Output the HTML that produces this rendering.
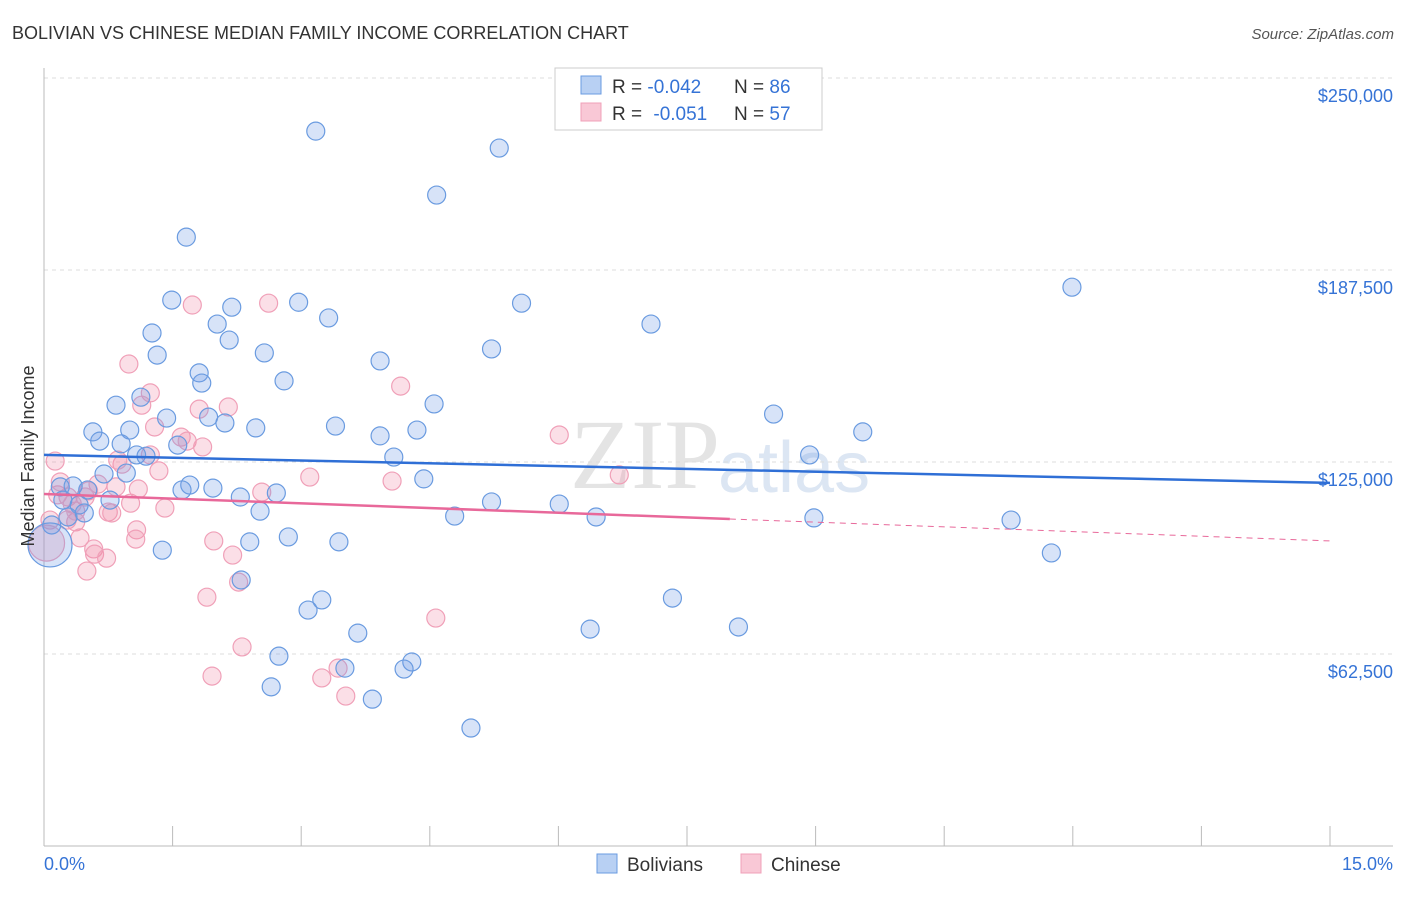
<!DOCTYPE html>
<html><head><meta charset="utf-8"><style>
body{margin:0;background:#fff;font-family:"Liberation Sans",sans-serif}
</style></head><body>
<svg id="chart" width="1406" height="892" xmlns="http://www.w3.org/2000/svg" font-family="Liberation Sans, sans-serif">
<text x="12" y="39" font-size="18" fill="#333">BOLIVIAN VS CHINESE MEDIAN FAMILY INCOME CORRELATION CHART</text>
<text x="1394" y="39" font-size="15" fill="#555" text-anchor="end" font-style="italic">Source: ZipAtlas.com</text>
<text x="720" y="488" font-size="100" fill="#e4e4e4" text-anchor="end" font-family="Liberation Serif, serif">ZIP</text>
<text x="718" y="492" font-size="72" fill="#dce6f3">atlas</text>
<g id="grid"></g>
<g id="axes"></g>
<g id="points"></g>
<g id="lines"></g>
<text x="34" y="456" font-size="18" fill="#333" text-anchor="middle" transform="rotate(-90 34 456)">Median Family Income</text>
<g>
<rect x="555" y="68" width="267" height="62" fill="#fff" stroke="#ccc"/>
<rect x="581" y="76" width="20" height="18" fill="#b8d0f3" stroke="#6a9be0"/>
<rect x="581" y="103" width="20" height="18" fill="#f9c8d6" stroke="#f0a0b8"/>
<text x="612" y="93" font-size="19" fill="#333">R = <tspan fill="#3573d6">-0.042</tspan><tspan x="734">N = </tspan><tspan fill="#3573d6">86</tspan></text>
<text x="612" y="120" font-size="19" fill="#333">R = <tspan fill="#3573d6" dx="6">-0.051</tspan><tspan x="734">N = </tspan><tspan fill="#3573d6">57</tspan></text>
</g>
<g>
<rect x="597" y="854" width="20" height="19" fill="#b8d0f3" stroke="#6a9be0"/>
<text x="627" y="871" font-size="19" fill="#333">Bolivians</text>
<rect x="741" y="854" width="20" height="19" fill="#f9c8d6" stroke="#f0a0b8"/>
<text x="771" y="871" font-size="19" fill="#333">Chinese</text>
</g>
</svg>
<script>
const xTickLabels=["0.0%","15.0%"];
const yTicks=[62500,125000,187500,250000];
const yTickLabels=["$62,500","$125,000","$187,500","$250,000"];
const blueX=[3.17,5.31,4.58,1.66,11.99,1.49,2.97,5.57,2.19,3.32,2.02,7.08,2.16,1.26,1.32,2.57,3.92,5.22,1.81,1.84,2.80,1.13,0.84,4.55,1.43,1.92,2.11,3.40,2.47,8.51,0.57,1.00,3.92,4.35,9.55,0.65,0.90,1.56,1.08,1.19,4.08,8.93,0.70,0.96,4.43,0.19,0.34,0.51,1.70,1.97,1.61,2.71,2.29,0.22,0.41,0.77,5.22,6.01,2.52,4.79,6.44,8.98,11.28,0.28,0.47,2.85,2.40,3.44,1.38,11.75,2.30,3.24,3.08,3.66,6.37,7.33,8.10,2.74,4.29,3.51,4.20,2.65,3.83,4.98,0.09,0.07];
const blueY=[232.7,227.2,211.9,198.2,181.9,177.7,177.0,176.7,175.4,171.9,169.9,169.9,164.7,167.0,159.8,160.5,157.9,161.8,154.0,150.7,151.4,146.1,143.5,143.9,139.3,139.6,137.7,136.7,136.1,140.6,134.8,135.4,133.5,135.4,134.8,131.8,130.9,130.5,127.3,126.9,126.6,127.3,121.1,121.4,119.5,116.9,117.2,115.9,117.5,116.5,115.9,114.9,113.6,112.6,111.0,112.6,112.0,111.3,109.0,107.4,107.1,106.8,106.1,107.1,108.4,100.6,99.0,99.0,96.3,95.4,86.6,80.1,76.8,69.3,70.6,80.7,71.3,61.8,59.9,57.9,57.6,51.8,47.8,38.4,104.5,98.0];
const pinkX=[1.73,2.62,0.99,1.24,1.14,1.81,2.15,1.29,1.60,1.67,1.85,6.01,4.16,0.13,0.91,1.34,3.10,4.06,6.71,0.63,0.84,0.52,2.54,0.28,0.16,0.48,1.01,1.41,0.75,0.37,0.42,1.08,1.07,1.98,0.58,0.59,2.20,0.73,0.50,2.27,1.90,4.57,2.31,1.96,3.24,3.43,3.52,0.07,0.27,0.79,1.10,0.37,0.19,0.33,0.86,1.24,0.03];
const pinkY=[176.1,176.7,156.9,147.5,143.5,142.2,142.9,136.4,133.1,131.8,129.9,133.8,149.7,125.3,124.3,122.1,120.1,118.8,120.8,117.8,116.9,115.6,115.2,113.6,114.3,113.6,111.6,110.0,108.7,105.5,100.3,102.9,99.9,99.3,96.7,95.0,94.7,93.7,89.5,85.9,81.0,74.2,64.8,55.3,54.7,57.9,48.8,106.1,106.1,108.4,116.2,109.0,118.5,111.3,125.6,127.3,98.6];
const blueTrend=[127.3,118.2];
const pinkTrend=[114.6,99.3];
const pinkSolidEnd=8.0;

const NS="http://www.w3.org/2000/svg";
const X=v=>44+v*(1330-44)/15;
const Y=k=>846-k*1000*(192/62500);
function mk(tag,attrs,parent){const e=document.createElementNS(NS,tag);for(const k in attrs)e.setAttribute(k,attrs[k]);parent.appendChild(e);return e;}
const grid=document.getElementById('grid'),axes=document.getElementById('axes'),pts=document.getElementById('points'),lines=document.getElementById('lines');
yTicks.forEach((t,i)=>{
 const y=Y(t/1000);
 const g=mk('line',{x1:44,x2:1393,y1:y,y2:y,stroke:'#ddd','stroke-dasharray':'4,4'},grid);
 
 
 const tx=mk('text',{x:1393,y:y+24,'font-size':18,fill:'#3573d6','text-anchor':'end'},axes);
 tx.textContent=yTickLabels[i];
 
 
});
const ax=mk('line',{x1:44,x2:1393,y1:846,y2:846,stroke:'#bbb'},axes);


const ay=mk('line',{x1:44,x2:44,y1:68,y2:846,stroke:'#bbb'},axes);


for(let i=0;i<=10;i++){
 const x=X(i*1.5);
 const tk=mk('line',{x1:x,x2:x,y1:826,y2:846,stroke:'#bbb'},axes);
 
 
}
const xl0=mk('text',{x:44,y:870,'font-size':18,fill:'#3573d6'},axes);
xl0.textContent=xTickLabels[0];


const xl1=mk('text',{x:1393,y:870,'font-size':18,fill:'#3573d6','text-anchor':'end'},axes);
xl1.textContent=xTickLabels[1];


function dots(xs,ys,fill,stroke,name,bigIdx,bigR){
 xs.forEach((v,i)=>{
  const r=i===bigIdx?bigR:9;
  const c=mk('circle',{cx:X(v),cy:Y(ys[i]),r:r,fill:fill,stroke:stroke,'stroke-width':1.2},pts);
  
  
 });
}
dots(pinkX,pinkY,'rgba(240,140,170,0.28)','#f0a0b8','chinese-point',pinkX.length-1,18);
dots(blueX,blueY,'rgba(110,155,230,0.28)','#6a9be0','bolivian-point',blueX.length-1,22);
const bl=mk('line',{x1:X(0),y1:Y(blueTrend[0]),x2:X(15),y2:Y(blueTrend[1]),stroke:'#2f6fd6','stroke-width':2.5},lines);


const pm=pinkTrend[0]+(pinkTrend[1]-pinkTrend[0])*pinkSolidEnd/15;
const pl=mk('line',{x1:X(0),y1:Y(pinkTrend[0]),x2:X(pinkSolidEnd),y2:Y(pm),stroke:'#e8689a','stroke-width':2.5},lines);


const pd=mk('line',{x1:X(pinkSolidEnd),y1:Y(pm),x2:X(15),y2:Y(pinkTrend[1]),stroke:'#e8689a','stroke-width':1,'stroke-dasharray':'6,5'},lines);


</script>
</body></html>
